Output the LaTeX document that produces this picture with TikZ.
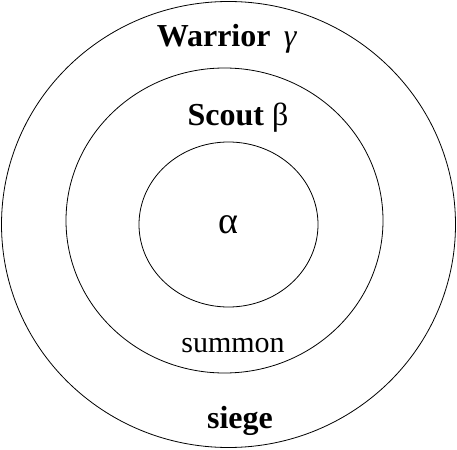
\documentclass[tikz,border=0pt]{standalone}
\usepackage{fontspec}
\setmainfont{Liberation Serif}
\usetikzlibrary{shapes.geometric, positioning}

\begin{document}
\begin{tikzpicture}[x=1pt, y=-1pt,
        ring/.style={draw, ellipse, line width=0.8pt, inner sep=0pt},
        bigtxt/.style={anchor=base, inner sep=0pt, font=\fontsize{32}{32}\selectfont\bfseries},
        smalltxt/.style={anchor=base, inner sep=0pt, font=\fontsize{30}{30}\selectfont}
    ]
        \useasboundingbox (0,0) rectangle (457,449);
        % the three rings
        \node (outer) [ring, minimum width=454pt, minimum height=446pt] at (228.5,224.5) {};
        \node (middle) [ring, minimum width=317pt, minimum height=305pt] at (224.5,220.5) {};
        \node (inner) [ring, minimum width=179pt, minimum height=165pt] at (228.5,224.5) {};

        \node (warrior) [bigtxt] at (227,47) {Warrior \,\textmd{\textit{γ}}};
        \node (scout) [bigtxt] at (238,126) {Scout \textmd{β}};
        \node (alpha) [smalltxt, font=\fontsize{38}{38}\selectfont] at (228,233) {α};
        \node (summon) [smalltxt] at (233,352) {summon};
        \node (siege) [bigtxt] at (240,428) {siege};
    \end{tikzpicture}
\end{document}
